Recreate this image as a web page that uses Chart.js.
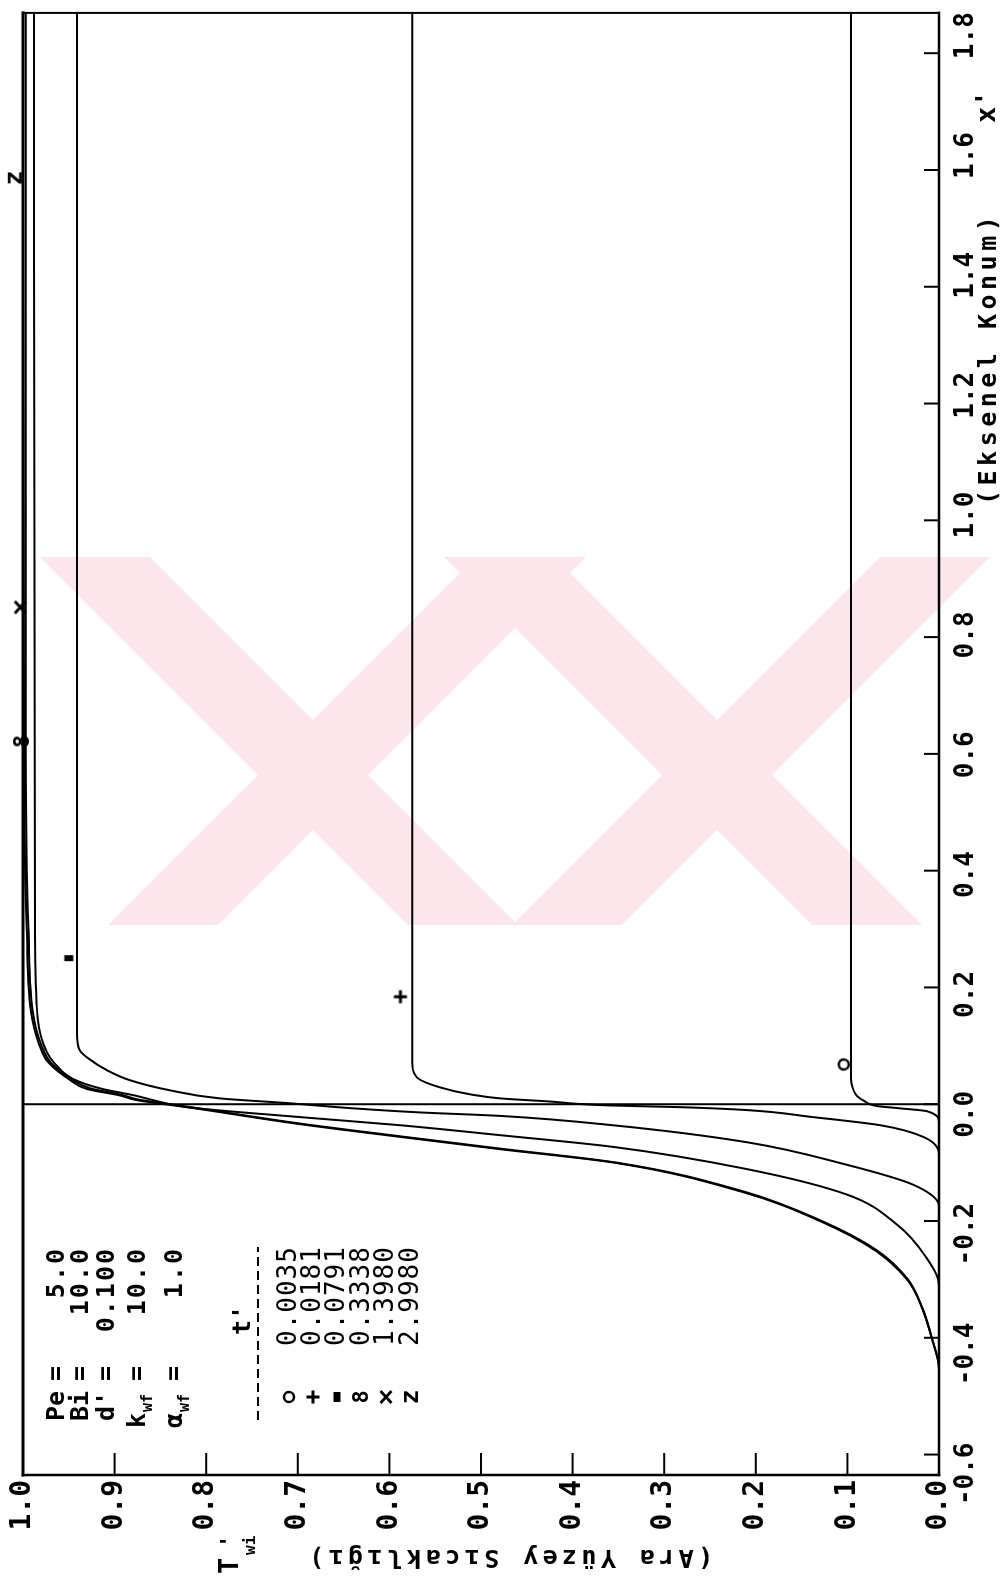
<!DOCTYPE html>
<html lang="tr">
<head>
<meta charset="utf-8">
<title>Ara Yüzey Sıcaklığı</title>
<script src="https://cdn.jsdelivr.net/npm/chart.js@4.4.1/dist/chart.umd.min.js"></script>
<style>
  html, body { margin:0; padding:0; background:#fff; width:1006px; height:1584px; overflow:hidden; }
  /* the plot is laid out landscape and turned a quarter turn */
  #wrap { position:absolute; left:0; top:0; width:1584px; height:1006px;
          transform-origin:0 0; transform:translate(0,1584px) rotate(-90deg); }
  canvas { display:block; }
</style>
</head>
<body>
<div id="wrap"><canvas id="chart" width="1584" height="1006"></canvas></div>
<script>
// t' value and plotting symbol of each curve
const timeLabels = ['0.0035', '0.0181', '0.0791', '0.3338', '1.3980', '2.9980'];
const symbols    = ['o', '+', '▪', '8', 'x', 'z'];

// axis ticks
const xTicks = [-0.6, -0.4, -0.2, 0.0, 0.2, 0.4, 0.6, 0.8, 1.0, 1.2, 1.4, 1.6, 1.8];
const yTicks = [0.0, 0.1, 0.2, 0.3, 0.4, 0.5, 0.6, 0.7, 0.8, 0.9, 1.0];

// run parameters
const paramNames  = ['Pe', 'Bi', "d'", 'k', 'α'];
const paramSubs   = ['', '', '', 'wf', 'wf'];
const paramValues = ['5.0', '10.0', '0.100', '10.0', '1.0'];

// interface temperature profiles T'wi(x')
const xA = [-0.635, -0.031, -0.012, -0.007, -0.003, 0.005, 0.015, 0.032, 0.045, 1.869];
const tA = [0, 0, 0.013, 0.043, 0.068, 0.081, 0.090, 0.095, 0.096, 0.096];

const xB = [-0.635, -0.085, -0.056, -0.036, -0.022, -0.010, -0.005, -0.002, 0.005, 0.010, 0.017, 0.029, 0.046, 0.072, 0.10, 1.869];
const tB = [0, 0, 0.017, 0.064, 0.138, 0.210, 0.283, 0.362, 0.428, 0.479, 0.512, 0.545, 0.570, 0.575, 0.575, 0.575];

const xC = [-0.635, -0.175, -0.138, -0.104, -0.065, -0.036, -0.020, -0.014, -0.007, 0.002, 0.010, 0.024, 0.041, 0.058, 0.080, 0.092, 0.12, 1.869];
const tC = [0, 0, 0.028, 0.100, 0.210, 0.356, 0.479, 0.567, 0.640, 0.712, 0.785, 0.840, 0.883, 0.908, 0.930, 0.938, 0.941, 0.941];

const xD = [-0.635, -0.311, -0.260, -0.206, -0.155, -0.111, -0.073, -0.053, -0.036, -0.022, -0.005, 0.007, 0.015, 0.026, 0.043, 0.071, 0.089, 0.146, 0.30, 1.869];
const tD = [0, 0, 0.015, 0.046, 0.100, 0.210, 0.356, 0.479, 0.588, 0.698, 0.821, 0.858, 0.878, 0.913, 0.945, 0.966, 0.974, 0.984, 0.987, 0.988];

const xE = [-0.635, -0.452, -0.40, -0.35, -0.30, -0.25, -0.20, -0.15, -0.10, -0.076, -0.055, -0.033, -0.004, 0.008, 0.016, 0.027, 0.044, 0.072, 0.090, 0.146, 0.30, 0.6, 1.869];
const tE = [0, 0, 0.008, 0.018, 0.034, 0.068, 0.128, 0.212, 0.352, 0.479, 0.588, 0.698, 0.821, 0.874, 0.892, 0.926, 0.948, 0.970, 0.977, 0.988, 0.994, 0.997, 0.997];

const xF = [-0.635, -0.455, -0.40, -0.35, -0.30, -0.25, -0.20, -0.15, -0.10, -0.077, -0.056, -0.034, -0.005, 0.007, 0.015, 0.026, 0.043, 0.071, 0.089, 0.146, 0.30, 0.6, 1.869];
const tF = [0, 0, 0.008, 0.018, 0.035, 0.070, 0.130, 0.215, 0.355, 0.479, 0.588, 0.698, 0.821, 0.876, 0.894, 0.930, 0.950, 0.972, 0.979, 0.990, 0.996, 0.999, 1.0];

// where each curve's symbol is written
const markX = [0.068, 0.184, 0.250, 0.621, 0.851, 1.586];
const markT = [0.104, 0.588, 0.950, 1.000, 1.003, 1.009];

// the x' = 0 interface line
const wallX = [0, 0];
const wallT = [0, 1];

const curveX = [xA, xB, xC, xD, xE, xF];
const curveT = [tA, tB, tC, tD, tE, tF];

const MONO = '"DejaVu Sans Mono", "Liberation Mono", monospace';

// small bitmaps for the curve symbols
function symbolCanvas(sym, legend) {
  const c = document.createElement('canvas');
  c.width = 30; c.height = 30;
  const g = c.getContext('2d');
  g.strokeStyle = '#000'; g.fillStyle = '#000'; g.lineCap = 'butt';
  if (sym === 'o') {
    g.lineWidth = 2.4; g.beginPath(); g.arc(15, 15, 5, 0, Math.PI * 2); g.stroke();
  } else if (sym === '+') {
    g.lineWidth = 3; g.beginPath();
    g.moveTo(8.5, 15); g.lineTo(21.5, 15); g.moveTo(15, 8.5); g.lineTo(15, 21.5); g.stroke();
  } else if (sym === 'x') {
    g.lineWidth = 3; g.beginPath();
    g.moveTo(9, 9.5); g.lineTo(21, 20.5); g.moveTo(21, 9.5); g.lineTo(9, 20.5); g.stroke();
  } else if (sym === '▪') {
    if (legend) g.fillRect(10, 11.5, 10, 7); else g.fillRect(12, 10.5, 6, 9);
  } else {
    g.font = 'bold ' + (sym === 'z' ? 25 : 22) + 'px ' + MONO;
    g.textAlign = 'center'; g.textBaseline = 'middle';
    g.fillText(sym, 15, 15);
  }
  return c;
}

function put(ctx, s, u, v, font, align, base, ls) {
  ctx.save();
  ctx.font = font;
  ctx.textAlign = align || 'left';
  ctx.textBaseline = base || 'alphabetic';
  if ('letterSpacing' in ctx) ctx.letterSpacing = ls || '0px';
  ctx.fillStyle = '#000';
  ctx.fillText(s, u, v);
  ctx.restore();
}

const datasets = [];
curveX.forEach((xs, i) => {
  datasets.push({
    label: "t' = " + timeLabels[i],
    data: xs.map((x, k) => ({ x: x, y: curveT[i][k] })),
    showLine: true, borderColor: '#000', borderWidth: 2,
    pointRadius: 0, cubicInterpolationMode: 'monotone', fill: false
  });
});
datasets.push({
  label: "x' = 0",
  data: wallX.map((x, k) => ({ x: x, y: wallT[k] })),
  showLine: true, borderColor: '#000', borderWidth: 2, pointRadius: 0
});
symbols.forEach((s, i) => {
  datasets.push({
    label: s,
    data: [{ x: markX[i], y: markT[i] }],
    showLine: false, pointStyle: symbolCanvas(s, false), pointRadius: 8,
    clip: false
  });
});

// faint page stamp behind the plot: four slanted bands, given as
// [left edge at the upper end, left edge at the lower end] on the upright page
const stampBands = [[40, 408], [476, 108], [444, 812], [880, 512]];

const decor = {
  id: 'decor',
  beforeDraw(chart) {
    const ctx = chart.ctx;
    const top = 557, bottom = 925, w = 110;
    // page (X, Y) -> canvas (u, v)
    const P = (X, Y) => [1584 - Y, X];
    ctx.save();
    ctx.fillStyle = '#fde6eb';
    stampBands.forEach(([a, b]) => {
      const pts = [P(a, top), P(a + w, top), P(b + w, bottom), P(b, bottom)];
      ctx.beginPath();
      ctx.moveTo(pts[0][0], pts[0][1]);
      for (let i = 1; i < 4; i++) ctx.lineTo(pts[i][0], pts[i][1]);
      ctx.closePath();
      ctx.fill();
    });
    ctx.restore();
  },
  afterDraw(chart) {
    const ctx = chart.ctx;
    const a = chart.chartArea;
    const sx = chart.scales.x, sy = chart.scales.y;
    ctx.save();
    ctx.strokeStyle = '#000';
    ctx.lineCap = 'square';
    // frame
    ctx.lineWidth = 3;
    ctx.beginPath(); ctx.moveTo(a.left, a.top); ctx.lineTo(a.right, a.top); ctx.stroke();
    ctx.lineWidth = 2.5;
    ctx.beginPath(); ctx.moveTo(a.left, a.bottom); ctx.lineTo(a.right, a.bottom); ctx.stroke();
    ctx.beginPath(); ctx.moveTo(a.left, a.top); ctx.lineTo(a.left, a.bottom); ctx.stroke();
    ctx.lineWidth = 2;
    ctx.beginPath(); ctx.moveTo(a.right, a.top); ctx.lineTo(a.right, a.bottom); ctx.stroke();
    // inward tick marks
    ctx.lineCap = 'butt';
    ctx.lineWidth = 2;
    xTicks.forEach(v => {
      const p = sx.getPixelForValue(v);
      ctx.beginPath(); ctx.moveTo(p, a.bottom); ctx.lineTo(p, a.bottom - 15); ctx.stroke();
    });
    yTicks.forEach(v => {
      const p = sy.getPixelForValue(v);
      ctx.beginPath(); ctx.moveTo(a.left, p); ctx.lineTo(a.left + 22, p); ctx.stroke();
    });
    ctx.restore();

    // axis titles
    put(ctx, '(Eksenel Konum)', 1079, 996, 'bold 25px ' + MONO, 'left', 'alphabetic', '4.5px');
    put(ctx, "x'", 1461, 995, 'bold 27px ' + MONO, 'left', 'alphabetic', '0px');
    ctx.save();
    ctx.translate(27, 509);
    ctx.rotate(-Math.PI / 2);
    put(ctx, '(Ara Yüzey Sıcaklığı)', 0, 0, 'bold 25px ' + MONO, 'center', 'middle', '4.4px');
    ctx.restore();
    put(ctx, 'T', 10, 238, 'bold 27px ' + MONO, 'left', 'alphabetic');
    put(ctx, "'", 36, 236, 'bold 22px ' + MONO, 'left', 'alphabetic');
    put(ctx, 'wi', 29, 255, 'bold 16px ' + MONO, 'left', 'alphabetic');

    // parameter block
    const rows = [57, 81, 107, 138, 175];
    paramNames.forEach((n, i) => {
      const v = rows[i];
      const u0 = paramSubs[i] ? 156 : 163;
      put(ctx, n, u0, v, 'bold 25px ' + MONO, 'left', 'middle', '0px');
      if (paramSubs[i]) put(ctx, paramSubs[i], u0 + 16, v + 10, 'bold 15px ' + MONO, 'left', 'middle', '0px');
      put(ctx, '=', 203, v, 'bold 25px ' + MONO, 'left', 'middle');
      put(ctx, paramValues[i], 337, v, 'bold 25px ' + MONO, 'right', 'middle', '2px');
    });

    // t' table
    put(ctx, "t'", 264, 243, 'bold 25px ' + MONO, 'center', 'middle');
    ctx.save();
    ctx.strokeStyle = '#000'; ctx.lineWidth = 2; ctx.setLineDash([9, 5]);
    ctx.beginPath(); ctx.moveTo(164, 258); ctx.lineTo(337, 258); ctx.stroke();
    ctx.restore();
    const lrows = [289, 313, 337, 362, 386, 411];
    symbols.forEach((s, i) => {
      ctx.drawImage(symbolCanvas(s, true), 187 - 15, lrows[i] - 15);
      put(ctx, timeLabels[i], 238, lrows[i], '26px ' + MONO, 'left', 'middle', '1px');
    });
  }
};

new Chart(document.getElementById('chart'), {
  type: 'scatter',
  data: { datasets: datasets },
  options: {
    responsive: false,
    devicePixelRatio: 1,
    animation: false,
    events: [],
    layout: { padding: { top: 23, right: 5, left: 0, bottom: 0 } },
    plugins: { legend: { display: false }, tooltip: { enabled: false }, title: { display: false } },
    scales: {
      x: {
        type: 'linear', position: 'bottom', min: -0.635, max: 1.869,
        ticks: { display: false },
        grid: { display: false, drawTicks: false },
        border: { display: false },
        afterFit(s) { s.height = 0; }
      },
      xl: {
        type: 'linear', position: 'bottom', min: -0.602, max: 1.838,
        afterBuildTicks(s) { s.ticks = xTicks.map(v => ({ value: v })); },
        ticks: {
          color: '#000', padding: 12, autoSkip: false, maxRotation: 0,
          font: { family: MONO, size: 26, weight: 'bold' },
          callback: v => Number(v).toFixed(1)
        },
        grid: { display: false, drawTicks: false },
        border: { display: false },
        afterFit(s) { s.height = 67; }
      },
      y: {
        type: 'linear', position: 'left', min: 0, max: 1,
        afterBuildTicks(s) { s.ticks = yTicks.map(v => ({ value: v })); },
        ticks: {
          color: '#000', padding: 5, autoSkip: false,
          font: { family: MONO, size: 28, weight: 'bold' },
          callback: v => Number(v).toFixed(1)
        },
        grid: { display: false, drawTicks: false },
        border: { display: false },
        afterFit(s) { s.width = 109; }
      }
    }
  },
  plugins: [decor]
});
</script>
</body>
</html>
